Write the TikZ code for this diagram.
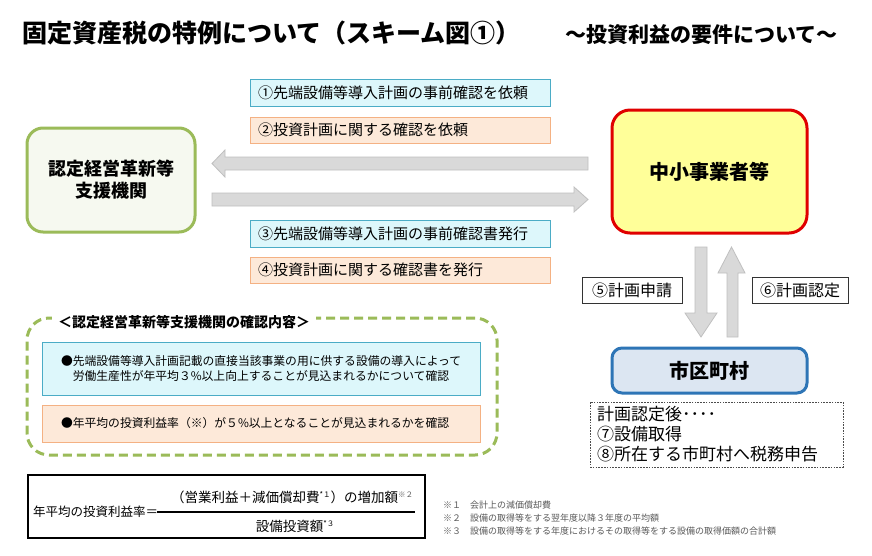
\documentclass[tikz,border=0pt]{standalone}
\usepackage{fontspec}
\setmainfont{Noto Sans CJK JP}
\usetikzlibrary{positioning}
\definecolor{cyfill}{HTML}{DDF7FB}
\definecolor{cyline}{HTML}{4BACC6}
\definecolor{orfill}{HTML}{FDE9D9}
\definecolor{orline}{HTML}{F4B183}
\definecolor{grline}{HTML}{9BBB59}
\definecolor{grfill}{HTML}{F6F9F0}
\definecolor{rdline}{HTML}{E00000}
\definecolor{ylfill}{HTML}{FFFF99}
\definecolor{blline}{HTML}{2E75B6}
\definecolor{blfill}{HTML}{DCE6F2}
\definecolor{arfill}{HTML}{D9D9D9}
\definecolor{arline}{HTML}{BFBFBF}
\definecolor{ftgray}{HTML}{595959}
\newcommand{\fsz}[2]{\fontsize{#1}{#2}\selectfont}
\newcommand{\sups}[1]{{\fsz{7.5}{8}\raisebox{4.5pt}{#1}}}
\tikzset{
  lblbox/.style={draw=#1line, fill=#1fill, line width=1pt, minimum height=26pt,
     inner xsep=8pt, inner ysep=0pt, align=left, font=\fsz{15}{18}},
  bigbox/.style={rounded corners=16pt, line width=3pt, align=center},
  smallbox/.style={draw=black!80, line width=0.8pt, minimum height=26pt, inner sep=0pt, font=\fsz{16}{18}},
  blockarrow/.style={fill=arfill, draw=arline, line width=0.8pt},
  plain/.style={inner sep=0pt}
}
\begin{document}
\begin{tikzpicture}[x=1pt,y=-1pt]
\useasboundingbox (0,0) rectangle (872,555);
\fill[white] (0,0) rectangle (872,555);

% titles
\node[plain, anchor=west, font=\fsz{25}{27}\bfseries] (title) at (22,33) {固定資産税の特例について（スキーム図①）};
\node[plain, anchor=west, font=\fsz{21}{23}\bfseries] (subtitle) at (565,35) {～投資利益の要件について～};

% main boxes
\node[bigbox, draw=grline, fill=grfill, minimum width=168pt, minimum height=104pt,
      font=\fsz{18}{22}\bfseries] (shien) at (111,180) {認定経営革新等\\支援機関};
\node[bigbox, draw=rdline, fill=ylfill, minimum width=195pt, minimum height=123pt,
      rounded corners=18pt, font=\fsz{20}{22}\bfseries] (chusho) at (709.5,171.5) {中小事業者等};
\node[bigbox, draw=blline, fill=blfill, minimum width=195pt, minimum height=45pt,
      rounded corners=10pt, font=\fsz{20}{22}\bfseries] (shiku) at (709.5,370.5) {市区町村};

% horizontal block arrows
\draw[blockarrow] (588,157) -- (225,157) -- (225,150) -- (212,163.5) -- (225,177) -- (225,170) -- (588,170) -- cycle;
\draw[blockarrow] (212,193) -- (574,193) -- (574,187) -- (588,199.5) -- (574,212) -- (574,206) -- (212,206) -- cycle;

% vertical block arrows
\draw[blockarrow] (695,247) -- (707,247) -- (707,313) -- (717,313) -- (701,337) -- (685,313) -- (695,313) -- cycle;
\draw[blockarrow] (727,337) -- (738,337) -- (738,273) -- (745,273) -- (731.5,247) -- (718,273) -- (727,273) -- cycle;

% label boxes
\node[lblbox=cy, minimum width=300pt, text width=284pt, minimum height=27pt] (l1) at (400,92.5) {①先端設備等導入計画の事前確認を依頼};
\node[lblbox=or, minimum width=300pt, text width=284pt] (l2) at (400,130) {②投資計画に関する確認を依頼};
\node[lblbox=cy, minimum width=300pt, text width=284pt, minimum height=27pt] (l3) at (400,233.5) {③先端設備等導入計画の事前確認書発行};
\node[lblbox=or, minimum width=300pt, text width=284pt] (l4) at (400,270) {④投資計画に関する確認書を発行};

\node[smallbox, minimum width=100pt] (l5) at (632,290) {⑤計画申請};
\node[smallbox, minimum width=96pt] (l6) at (800,290) {⑥計画認定};

% note box
\node[draw=black!70, dash pattern=on 1.6pt off 1.2pt, line width=0.8pt, minimum width=253pt, minimum height=65pt,
      text width=239pt, inner xsep=7pt, inner ysep=0pt, align=left, font=\fsz{17}{20}] (note) at (716.5,434.5)
      {計画認定後････\\⑦設備取得\\⑧所在する市町村へ税務申告};

% confirmation group
\node[draw=grline, line width=3pt, dash pattern=on 9pt off 5pt, rounded corners=22pt,
      minimum width=470pt, minimum height=137pt] (grp) at (262,386.5) {};
\node[plain, fill=white, inner xsep=6pt, inner ysep=2pt, anchor=west, font=\fsz{14}{16}\bfseries] (grptitle) at (52,322) {＜認定経営革新等支援機関の確認内容＞};
\node[draw=cyline, fill=cyfill, line width=1pt, minimum width=438pt, minimum height=53pt,
      text width=400pt, inner xsep=19pt, inner ysep=0pt, align=left, font=\fsz{11.8}{15}] (c1) at (261,368.5)
      {●先端設備等導入計画記載の直接当該事業の用に供する設備の導入によって\\\phantom{●}労働生産性が年平均３\%以上向上することが見込まれるかについて確認};
\node[draw=orline, fill=orfill, line width=1pt, minimum width=438pt, minimum height=37pt,
      text width=400pt, inner xsep=19pt, inner ysep=0pt, align=left, font=\fsz{11.8}{15}] (c2) at (261,423.5)
      {●年平均の投資利益率（※）が５\%以上となることが見込まれるかを確認};

% formula
\node[draw=black, line width=2pt, minimum width=397pt, minimum height=63pt] (fbox) at (226.5,506.5) {};
\node[plain, anchor=west, font=\fsz{12.5}{14}] (flhs) at (33,512) {年平均の投資利益率＝};
\coordinate (barL) at (157,512);
\coordinate (barR) at (415,512);
\draw[line width=1.8pt] (barL) -- (barR);
\node[plain, font=\fsz{13.5}{15}] (fnum) at (292,497) {（営業利益＋減価償却費\sups{*１}）の増加額\textcolor{ftgray}{\sups{※２}}};
\node[plain, font=\fsz{13.5}{15}] (fden) at (295,526) {設備投資額\sups{*３}};

% footnotes
\node[plain, anchor=west, text=ftgray, font=\fsz{9}{10}] (fn1) at (443,505) {※１\hspace{1em}会計上の減価償却費};
\node[plain, anchor=west, text=ftgray, font=\fsz{9}{10}] (fn2) at (443,518) {※２\hspace{1em}設備の取得等をする翌年度以降３年度の平均額};
\node[plain, anchor=west, text=ftgray, font=\fsz{9}{10}] (fn3) at (443,531) {※３\hspace{1em}設備の取得等をする年度におけるその取得等をする設備の取得価額の合計額};
\end{tikzpicture}
\end{document}
